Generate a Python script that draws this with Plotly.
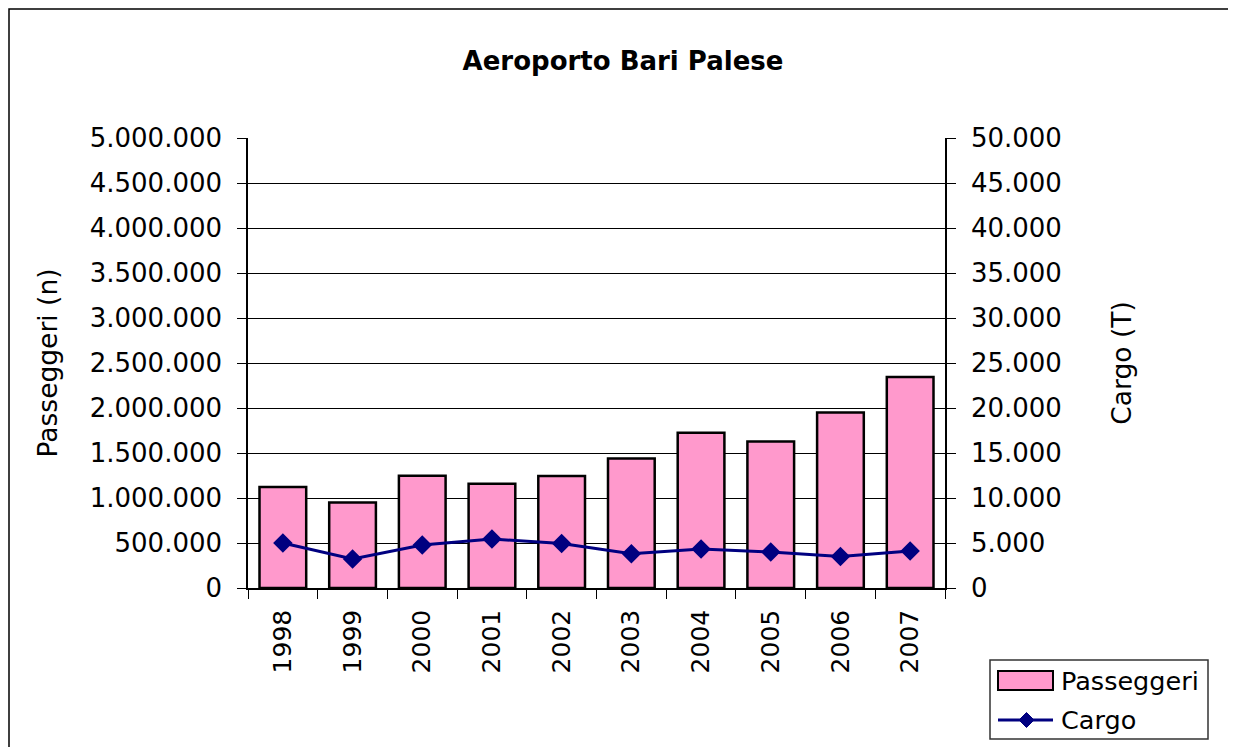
import plotly.graph_objects as go

# data
anni = ["1998", "1999", "2000", "2001", "2002", "2003", "2004", "2005", "2006", "2007"]
passeggeri = [1122000, 951000, 1248000, 1159000, 1244000, 1440000, 1726000, 1629000, 1951000, 2344000]
cargo = [5000, 3222, 4778, 5444, 4956, 3811, 4333, 4000, 3511, 4111]

FONT = "DejaVu Sans"
PINK = "#FF99CC"
NAVY = "#000080"

# plot area in page pixels (page has the 8px body margin)
PX0, PX1, PY0, PY1 = 248, 945, 138, 588


def px(x):
    # page x pixel -> paper coordinate
    return (x - PX0) / (PX1 - PX0)


def py(y):
    # page y pixel -> paper coordinate
    return (PY1 - y) / (PY1 - PY0)


fig = go.Figure()

fig.add_trace(go.Bar(
    name="Passeggeri",
    x=anni, y=passeggeri,
    marker=dict(color=PINK, line=dict(color="#000000", width=2.5)),
    yaxis="y",
))

fig.add_trace(go.Scatter(
    name="Cargo",
    x=anni, y=cargo,
    mode="lines+markers",
    line=dict(color=NAVY, width=3),
    marker=dict(symbol="diamond", size=15, color=NAVY),
    yaxis="y2",
))

fig.update_layout(
    width=1228, height=739,
    margin=dict(l=240, r=291, t=130, b=159, autoexpand=False),
    plot_bgcolor="white",
    paper_bgcolor="white",
    separators=",.",
    font=dict(family=FONT, size=25, color="#000000"),
    bargap=0.33,
    showlegend=False,
    title=dict(text="<b>Aeroporto Bari Palese</b>", x=615 / 1228, xanchor="center",
               y=1 - 53 / 739, yanchor="middle", font=dict(size=26)),
    xaxis=dict(
        type="category",
        range=[-0.5, len(anni) - 0.5],
        tickangle=-90,
        ticks="outside", tickson="boundaries", ticklen=9, tickcolor="#000000",
        ticklabelstandoff=10,
        showline=True, linecolor="#000000", linewidth=1.5,
        showgrid=False,
    ),
    yaxis=dict(
        title=dict(text="Passeggeri (n)", standoff=24,
                   font=dict(family=FONT, size=26.5, color="#000000")),
        range=[0, 5000000], dtick=500000, tickformat=",d",
        tickfont=dict(size=26),
        ticks="outside", ticklen=9, tickcolor="#000000",
        ticklabelstandoff=10,
        showline=True, linecolor="#000000", linewidth=1.5,
        gridcolor="#000000", gridwidth=1,
        zeroline=False,
    ),
    yaxis2=dict(
        title=dict(text="Cargo (T)", standoff=52,
                   font=dict(family=FONT, size=26.5, color="#000000")),
        overlaying="y", side="right",
        range=[0, 50000], dtick=5000, tickformat=",d",
        tickfont=dict(size=26),
        ticks="outside", ticklen=9, tickcolor="#000000",
        ticklabelstandoff=10,
        showline=True, linecolor="#000000", linewidth=1.5,
        showgrid=False, zeroline=False,
    ),
)

# outer frame of the chart
fig.add_shape(type="rect", xref="paper", yref="paper",
              x0=px(9), x1=px(1229), y0=py(800), y1=py(9),
              line=dict(color="#000000", width=1.5), layer="below")

# legend box, drawn by hand so the bar swatch is wide like the original
fig.add_shape(type="rect", xref="paper", yref="paper",
              x0=px(990), x1=px(1208), y0=py(739), y1=py(660),
              line=dict(color="#333333", width=1.5), fillcolor="white")
fig.add_shape(type="rect", xref="paper", yref="paper",
              x0=px(998), x1=px(1053), y0=py(690), y1=py(671),
              line=dict(color="#000000", width=2), fillcolor=PINK)
fig.add_shape(type="line", xref="paper", yref="paper",
              x0=px(998), x1=px(1053), y0=py(720), y1=py(720),
              line=dict(color=NAVY, width=3))
fig.add_shape(type="path", xref="paper", yref="paper",
              path="M {a},{m} L {c},{t} L {b},{m} L {c},{bt} Z".format(
                  a=px(1019), b=px(1034), c=px(1026.5),
                  m=py(720), t=py(712.5), bt=py(727.5)),
              line=dict(color=NAVY, width=1), fillcolor=NAVY)
fig.add_annotation(text="Passeggeri", xref="paper", yref="paper",
                   x=px(1059), y=py(681), xanchor="left", yanchor="middle",
                   showarrow=False, font=dict(size=25.5))
fig.add_annotation(text="Cargo", xref="paper", yref="paper",
                   x=px(1059), y=py(720), xanchor="left", yanchor="middle",
                   showarrow=False, font=dict(size=25.5))

fig.write_html("out.html")
